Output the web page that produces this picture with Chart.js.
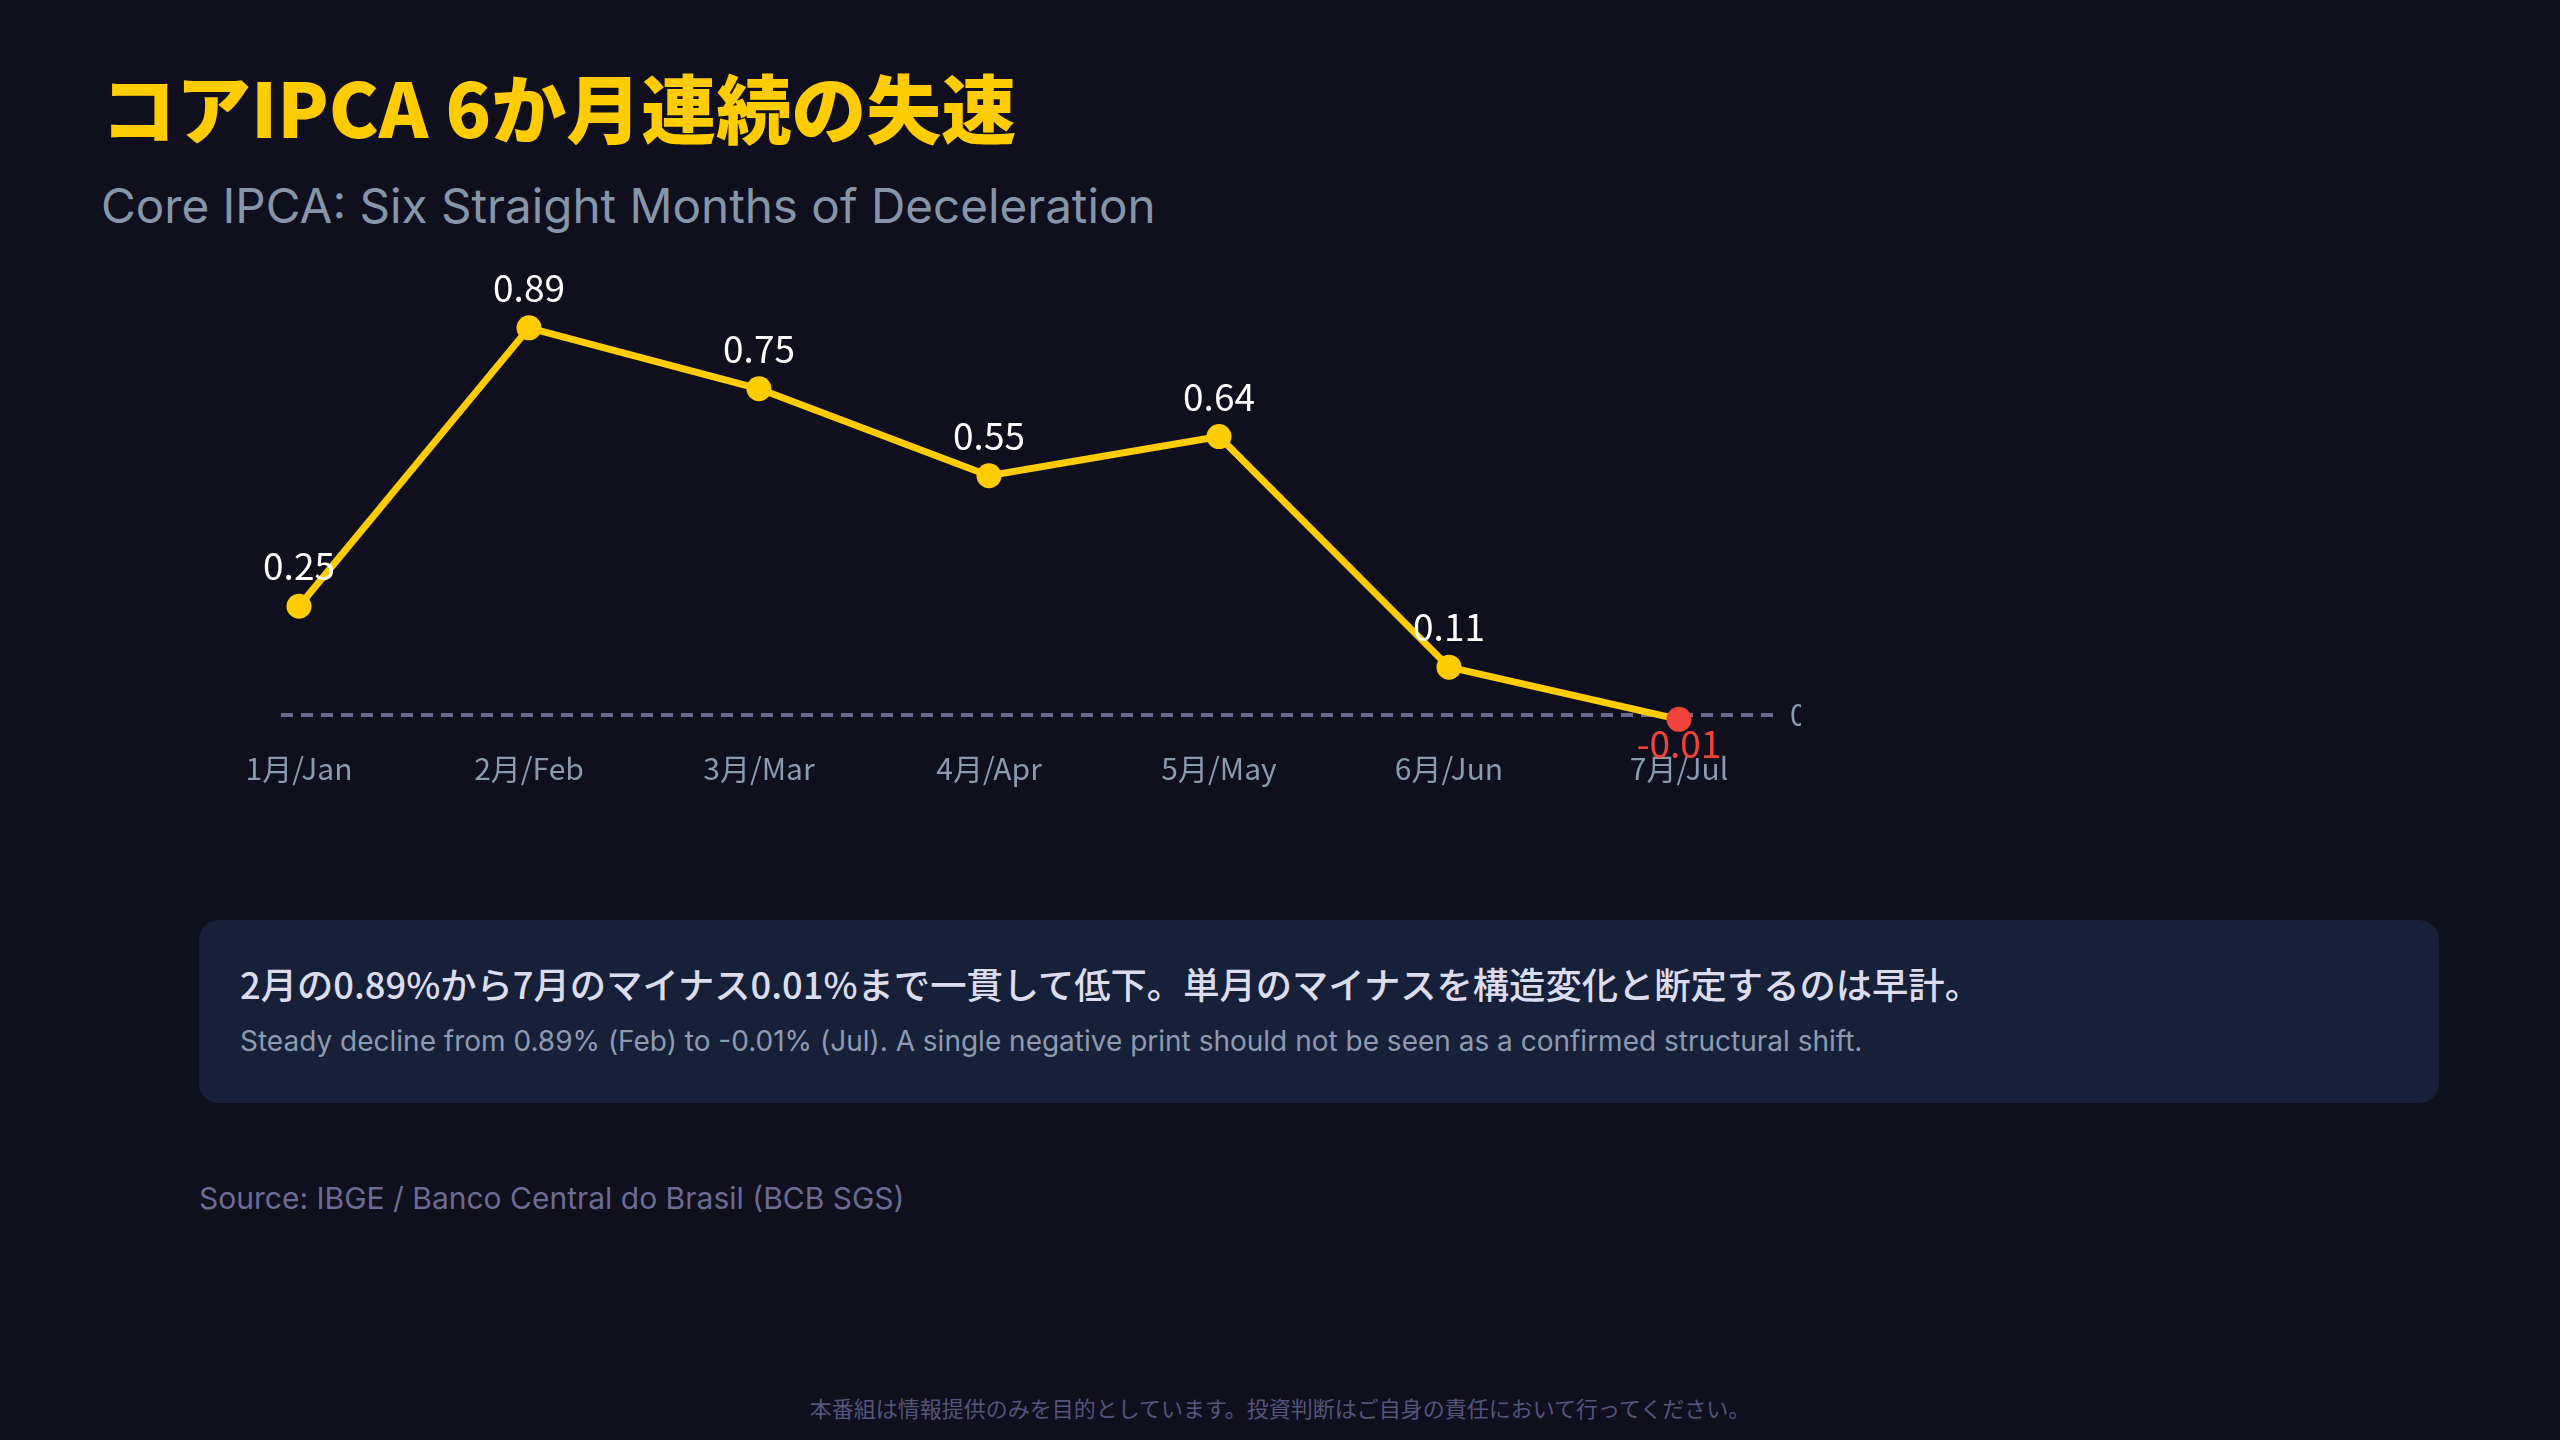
<!DOCTYPE html>
<html lang="ja">
<head>
    <meta charset="UTF-8">
    <title>コアIPCA 6か月連続の失速</title>
    <script src="https://cdn.jsdelivr.net/npm/chart.js"></script>
    <style>
        html, body {
            margin: 0;
            padding: 0;
            background-color: #0f0f1e;
            font-family: "Noto Sans CJK JP", "Noto Sans", sans-serif;
        }
        .page {
            position: relative;
            width: 2560px;
            height: 1440px;
            overflow: hidden;
        }
        .title {
            position: absolute;
            left: 101px;
            top: 61px;
            margin: 0;
            font-size: 75px;
            font-weight: 900;
            color: #ffcc00;
            line-height: 1.2;
            white-space: nowrap;
        }
        .subtitle {
            position: absolute;
            left: 101px;
            top: 177px;
            margin: 0;
            font-family: Inter, "Noto Sans CJK JP", sans-serif;
            font-size: 47.6px;
            font-weight: 400;
            color: #8795a8;
            line-height: 1.2;
            white-space: nowrap;
        }
        .chart-box {
            position: absolute;
            left: 184px;
            top: 240px;
            width: 1617px;
            height: 560px;
        }
        .note {
            position: absolute;
            left: 199px;
            top: 920px;
            width: 2240px;
            height: 183px;
            background-color: #172039;
            border-radius: 20px;
            box-sizing: border-box;
            padding: 42px 0 0 41px;
        }
        .note .jp {
            font-size: 36.3px;
            font-weight: 500;
            color: #dcdcec;
            line-height: 1.2;
            white-space: nowrap;
        }
        .note .en {
            margin-top: 19px;
            font-family: Inter, "Noto Sans CJK JP", sans-serif;
            font-size: 28px;
            color: #8d9bb0;
            line-height: 1.2;
            white-space: nowrap;
        }
        .source {
            position: absolute;
            left: 199px;
            top: 1180px;
            font-family: Inter, "Noto Sans CJK JP", sans-serif;
            font-size: 30px;
            color: #6c6c92;
            white-space: nowrap;
        }
        .footer {
            position: absolute;
            left: 0;
            width: 2560px;
            top: 1391px;
            text-align: center;
            font-size: 22px;
            color: #55557a;
        }
    </style>
</head>
<body>
<div class="page">
    <h1 class="title">コアIPCA 6か月連続の失速</h1>
    <h2 class="subtitle">Core IPCA: Six Straight Months of Deceleration</h2>

    <div class="chart-box">
        <canvas id="coreChart"></canvas>
    </div>

    <div class="note">
        <div class="jp">2月の0.89%から7月のマイナス0.01%まで一貫して低下。単月のマイナスを構造変化と断定するのは早計。</div>
        <div class="en">Steady decline from 0.89% (Feb) to -0.01% (Jul). A single negative print should not be seen as a confirmed structural shift.</div>
    </div>

    <div class="source">Source: IBGE / Banco Central do Brasil (BCB SGS)</div>
    <div class="footer">本番組は情報提供のみを目的としています。投資判断はご自身の責任において行ってください。</div>
</div>

<script>
    // monthly core IPCA, % m/m
    const months = ['1月/Jan', '2月/Feb', '3月/Mar', '4月/Apr', '5月/May', '6月/Jun', '7月/Jul'];
    const coreIpca = [0.25, 0.89, 0.75, 0.55, 0.64, 0.11, -0.01];
    const zeroLevel = 0;
    const zeroLabel = '0';

    const YELLOW = '#ffcc00';
    const RED = '#f2433a';
    const FONT = '"Noto Sans CJK JP", "Noto Sans", sans-serif';

    // dashed zero line with its label on the right
    const zeroLinePlugin = {
        id: 'zeroLine',
        beforeDatasetsDraw(chart) {
            const ctx = chart.ctx;
            const x = chart.scales.x, y = chart.scales.y;
            const yPix = y.getPixelForValue(zeroLevel);
            const x0 = x.getPixelForValue(0) - 18;
            const x1 = x.getPixelForValue(months.length - 1) + 97;
            ctx.save();
            ctx.strokeStyle = '#6a6a8c';
            ctx.lineWidth = 4;
            ctx.setLineDash([12, 8]);
            ctx.beginPath();
            ctx.moveTo(x0, yPix);
            ctx.lineTo(x1, yPix);
            ctx.stroke();
            ctx.setLineDash([]);
            ctx.fillStyle = '#8a9bb0';
            ctx.font = '30px ' + FONT;
            ctx.textAlign = 'left';
            ctx.textBaseline = 'middle';
            ctx.fillText(zeroLabel, x1 + 14, yPix);
            ctx.restore();
        }
    };

    // value labels: above the point, below (in red) when negative
    const valueLabelPlugin = {
        id: 'valueLabels',
        afterDatasetsDraw(chart) {
            const ctx = chart.ctx;
            const meta = chart.getDatasetMeta(0);
            ctx.save();
            ctx.font = '37px ' + FONT;
            ctx.textAlign = 'center';
            ctx.textBaseline = 'middle';
            meta.data.forEach((pt, i) => {
                const v = coreIpca[i];
                if (v < 0) {
                    ctx.fillStyle = RED;
                    ctx.fillText(v.toFixed(2), pt.x, pt.y + 25);
                } else {
                    ctx.fillStyle = '#ffffff';
                    ctx.fillText(v.toFixed(2), pt.x, pt.y - 40);
                }
            });
            ctx.restore();
        }
    };

    new Chart(document.getElementById('coreChart'), {
        type: 'line',
        data: {
            labels: months,
            datasets: [{
                data: coreIpca,
                borderColor: YELLOW,
                borderWidth: 7,
                pointRadius: 12.5,
                pointHoverRadius: 12.5,
                pointBorderWidth: 0,
                pointBackgroundColor: c => (c.raw < 0 ? RED : YELLOW),
                tension: 0,
                clip: false
            }]
        },
        options: {
            responsive: true,
            maintainAspectRatio: false,
            animation: false,
            events: [],
            layout: {
                autoPadding: false,
                padding: {top: 40, right: 7, bottom: 13, left: 0}
            },
            plugins: {
                legend: {display: false},
                tooltip: {enabled: false}
            },
            scales: {
                x: {
                    offset: true,
                    grid: {display: false},
                    border: {display: false},
                    ticks: {
                        color: '#8a9bb0',
                        padding: 10,
                        font: {family: FONT, size: 30}
                    },
                    afterFit: s => {
                        s.height = 54;
                        s.paddingLeft = 0;
                        s.paddingRight = 0;
                    }
                },
                y: {
                    display: false,
                    min: -0.0414,
                    max: 1.0
                }
            }
        },
        plugins: [zeroLinePlugin, valueLabelPlugin]
    });
</script>
</body>
</html>
